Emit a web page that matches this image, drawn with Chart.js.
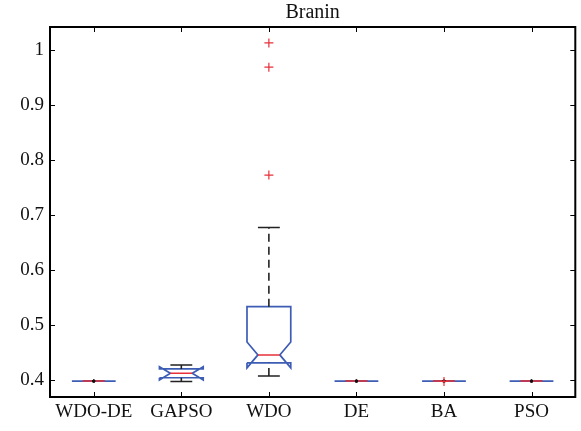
<!DOCTYPE html>
<html>
<head>
<meta charset="utf-8">
<script src="https://cdn.jsdelivr.net/npm/chart.js@4.4.1/dist/chart.umd.min.js"></script>
<style>
  body { margin: 0; background: #fff; }
  #wrap { width: 581px; height: 431px; }
</style>
</head>
<body>
<div id="wrap"><canvas id="chart" width="581" height="431"></canvas></div>
<script>
// Branin results per algorithm, boxplot stats
const chartTitle = 'Branin';
const methods = ['WDO-DE', 'GAPSO', 'WDO', 'DE', 'BA', 'PSO'];
const lowerWhisker = [0.3979, 0.397, 0.407, 0.3979, 0.3979, 0.3979];
const q1 = [0.3979, 0.404, 0.431, 0.3979, 0.3979, 0.3979];
const medians = [0.3979, 0.412, 0.4455, 0.3979, 0.3979, 0.3979];
const q3 = [0.3979, 0.420, 0.533, 0.3979, 0.3979, 0.3979];
const upperWhisker = [0.3979, 0.427, 0.677, 0.3979, 0.3979, 0.3979];
const notchLow = [0.3979, 0.400, 0.422, 0.3979, 0.3979, 0.3979];
const notchHigh = [0.3979, 0.424, 0.469, 0.3979, 0.3979, 0.3979];
const outliers = [[], [], [0.772, 0.968, 1.012], [], [0.3972], []];
const yTicks = [0.4, 0.5, 0.6, 0.7, 0.8, 0.9, 1.0];

const BOX_HALF = 0.25;    // half box width, in category units
const NOTCH_HALF = 0.125; // half width at the notch waist / caps

const boxPts = [], medPts = [], whiskPts = [], capPts = [], outPts = [];
methods.forEach((m, i) => {
    const x = i + 1;
    const l = x - BOX_HALF, r = x + BOX_HALF, nl = x - NOTCH_HALF, nr = x + NOTCH_HALF;
    boxPts.push(
        {x: l, y: q1[i]}, {x: l, y: notchLow[i]}, {x: nl, y: medians[i]}, {x: l, y: notchHigh[i]},
        {x: l, y: q3[i]}, {x: r, y: q3[i]}, {x: r, y: notchHigh[i]}, {x: nr, y: medians[i]},
        {x: r, y: notchLow[i]}, {x: r, y: q1[i]}, {x: l, y: q1[i]}, {x: x, y: null});
    medPts.push({x: nl, y: medians[i]}, {x: nr, y: medians[i]}, {x: x, y: null});
    whiskPts.push({x: x, y: q3[i]}, {x: x, y: upperWhisker[i]}, {x: x, y: null},
                  {x: x, y: lowerWhisker[i]}, {x: x, y: q1[i]}, {x: x, y: null});
    capPts.push({x: nl, y: upperWhisker[i]}, {x: nr, y: upperWhisker[i]}, {x: x, y: null},
                {x: nl, y: lowerWhisker[i]}, {x: nr, y: lowerWhisker[i]}, {x: x, y: null});
    outliers[i].forEach(v => outPts.push({x: x, y: v}));
});

// inward ticks on all four sides + box frame + title, matlab style
const frame = {
    id: 'frame',
    afterDraw(chart) {
        const {ctx, chartArea: a, scales: {x, y}} = chart;
        ctx.save();
        ctx.strokeStyle = '#000';
        ctx.lineWidth = 1;
        ctx.beginPath();
        x.ticks.forEach(t => {
            const px = Math.round(x.getPixelForValue(t.value)) + 0.5;
            ctx.moveTo(px, a.bottom); ctx.lineTo(px, a.bottom - 5);
            ctx.moveTo(px, a.top); ctx.lineTo(px, a.top + 5);
        });
        y.ticks.forEach(t => {
            const py = Math.round(y.getPixelForValue(t.value)) + 0.5;
            ctx.moveTo(a.left, py); ctx.lineTo(a.left + 5, py);
            ctx.moveTo(a.right, py); ctx.lineTo(a.right - 5, py);
        });
        ctx.stroke();
        ctx.lineWidth = 2;
        ctx.strokeRect(a.left, a.top, a.right - a.left, a.bottom - a.top);
        ctx.fillStyle = '#111';
        ctx.font = '20px "Liberation Serif"';
        ctx.textAlign = 'center';
        ctx.textBaseline = 'middle';
        ctx.fillText(chartTitle, (a.left + a.right) / 2, 13);
        ctx.restore();
    }
};

const tickFont = {family: '"Liberation Serif", serif', size: 19};

new Chart(document.getElementById('chart'), {
    type: 'scatter',
    data: {
        datasets: [
            {data: outPts, pointStyle: 'cross', pointRadius: 4.5, borderColor: '#e8303a', borderWidth: 1.2, showLine: false, order: 0},
            {data: whiskPts, showLine: true, borderColor: '#222', borderWidth: 1.6, borderDash: [8, 5], order: 1,
             // flat groups leave a zero-length whisker: mark it with a dot
             pointRadius: c => (c.raw && c.raw.y !== null && q1[Math.round(c.raw.x) - 1] === lowerWhisker[Math.round(c.raw.x) - 1]) ? 1.5 : 0,
             pointBackgroundColor: '#111', pointBorderWidth: 0},
            {data: medPts, showLine: true, borderColor: '#e8303a', borderWidth: 1.5, pointRadius: 0, order: 2},
            {data: boxPts, showLine: true, borderColor: '#3d5db5', borderWidth: 1.7, pointRadius: 0, order: 3},
            {data: capPts, showLine: true, borderColor: '#222', borderWidth: 1.5, pointRadius: 0, order: 4}
        ]
    },
    options: {
        responsive: false,
        animation: false,
        events: [],
        spanGaps: false,
        layout: {padding: {top: 27, right: 3, left: 0, bottom: 0}},
        plugins: {legend: {display: false}, tooltip: {enabled: false}},
        scales: {
            x: {
                type: 'linear', min: 0.5, max: 6.5,
                grid: {display: false, drawTicks: false},
                border: {display: false},
                afterBuildTicks: axis => { axis.ticks = methods.map((m, i) => ({value: i + 1})); },
                afterFit: axis => { axis.height = 34; },
                ticks: {color: '#111', font: tickFont, padding: 4, maxRotation: 0, autoSkip: false,
                        callback: v => methods[Math.round(v) - 1]}
            },
            y: {
                type: 'linear', min: 0.369, max: 1.041,
                grid: {display: false, drawTicks: false},
                border: {display: false},
                afterBuildTicks: axis => { axis.ticks = yTicks.map(v => ({value: v})); },
                afterFit: axis => { axis.width = 50; },
                ticks: {color: '#111', font: tickFont, padding: 6,
                        callback: v => String(+v.toFixed(1))}
            }
        }
    },
    plugins: [frame]
});
</script>
</body>
</html>
